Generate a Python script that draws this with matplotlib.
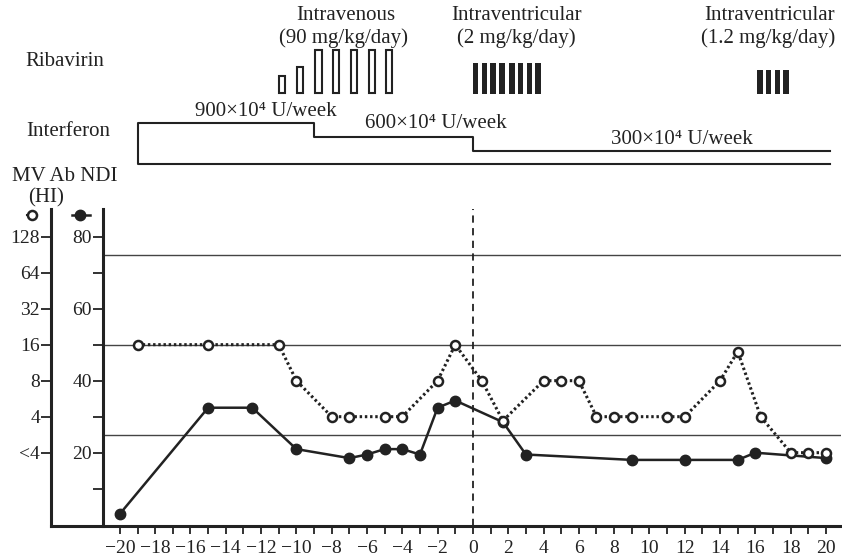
import matplotlib
matplotlib.use("Agg")
import matplotlib.pyplot as plt
from matplotlib.lines import Line2D

plt.rcParams['font.family'] = ['Liberation Serif', 'DejaVu Serif']
plt.rcParams['font.size'] = 15

# NDI (filled circles)
ndi_day = [-20, -15, -12.5, -10, -7, -6, -5, -4, -3, -2, -1, 1.7, 3, 9, 12, 15, 16, 20]
ndi_val = [3, 32.5, 32.5, 21, 18.5, 19.5, 21, 21, 19.5, 32.5, 34.5, 28.5, 19.5, 18, 18, 18, 20, 18.5]

# MV antibody titre, HI (open circles); 2 is plotted as "<4"
mv_day = [-19, -15, -11, -10, -8, -7, -5, -4, -2, -1, 0.5, 1.7, 4, 5, 6, 7, 8, 9,
          11, 12, 14, 15, 16.3, 18, 19, 20]
mv_val = [16, 16, 16, 8, 4, 4, 4, 4, 8, 16, 8, 3.7, 8, 8, 8, 4, 4, 4,
          4, 4, 8, 14, 4, 2, 2, 2]
mv_ticks = [2, 4, 8, 16, 32, 64, 128]
mv_labels = ['<4', '4', '8', '16', '32', '64', '128']
ndi_ticks = [20, 40, 60, 80]
ref_lines = [25, 50, 75]

# ribavirin (relative bar heights)
iv_day = [-10.8, -9.8, -8.75, -7.75, -6.75, -5.7, -4.75]
iv_h = [17, 26, 43, 43, 43, 43, 43]
ivt2_day = [0.15, 0.65, 1.15, 1.65, 2.2, 2.7, 3.2, 3.7]
ivt2_h = [31, 31, 31, 31, 31, 31, 31, 31]
ivt12_day = [16.25, 16.75, 17.25, 17.75]
ivt12_h = [24, 24, 24, 24]

# interferon
ifn_start = [-19, -9, 0]
ifn_end = [-9, 0, 20.2]
ifn_dose = [900, 600, 300]

W, H = 842, 558
fig = plt.figure(figsize=(W / 100, H / 100), dpi=100)
ink = '#222222'
tick_fs = 14

# main axes: spans from the MV Ab spine to the right edge
ax = fig.add_axes([51 / W, (H - 526) / H, 790 / W, 317 / H])
x0, x1 = -23.9, 20.85
ndi_spine = -20.96
ax.set_xlim(x0, x1)
ax.set_ylim(-0.36, 87.7)

ax.hlines(ref_lines, ndi_spine, x1, color='#444444', lw=1)
ax.axvline(0, color=ink, lw=1.3, ls=(0, (4, 3)))
ax.plot(ndi_day, ndi_val, color=ink, lw=1.8, marker='o', ms=7.5, zorder=3)

ax.spines['top'].set_visible(False)
ax.spines['right'].set_visible(False)
ax.spines['left'].set_position(('data', ndi_spine))
for s in ['left', 'bottom']:
    ax.spines[s].set_linewidth(2.2)
    ax.spines[s].set_color(ink)

ax.set_xticks(range(-20, 21, 2))
ax.set_xticks(range(-19, 21, 2), minor=True)
ax.set_yticks(ndi_ticks)
ax.set_yticks([10, 30, 50, 70], minor=True)
ax.tick_params(axis='both', which='both', direction='out', length=6, width=1.3,
               color=ink, labelcolor=ink, labelsize=tick_fs)
ax.tick_params(axis='y', which='both', length=7, pad=1)
ax.tick_params(axis='x', pad=4)

# MV Ab axis, log2 scale, spine at the left edge
ax2 = ax.twinx()
ax2.set_yscale('log', base=2)
ax2.set_ylim(0.4875, 218)
ax2.plot(mv_day, mv_val, color=ink, lw=2.2, ls=(0, (0.8, 0.9)),
         marker='o', ms=6.5, mfc='white', mec=ink, mew=1.8, zorder=4)
for s in ['top', 'right', 'bottom']:
    ax2.spines[s].set_visible(False)
ax2.spines['left'].set_visible(True)
ax2.spines['left'].set_position(('axes', 0))
ax2.spines['left'].set_linewidth(2.2)
ax2.spines['left'].set_color(ink)
ax2.yaxis.tick_left()
ax2.set_yticks(mv_ticks)
ax2.set_yticklabels(mv_labels)
ax2.yaxis.set_minor_locator(matplotlib.ticker.NullLocator())
ax2.tick_params(axis='y', direction='out', length=7, width=1.3, pad=1,
                color=ink, labelcolor=ink, labelsize=tick_fs)

# axis headers and legend symbols
fig.text(12 / W, 1 - 177 / H, 'MV Ab NDI', ha='left', va='center', color=ink)
fig.text(46 / W, 1 - 198 / H, '(HI)', ha='center', va='center', color=ink)
fig.add_artist(Line2D([27 / W, 37 / W], [1 - 215 / H] * 2, color=ink, lw=1.5))
fig.add_artist(Line2D([31.7 / W], [1 - 215 / H], color=ink, marker='o', ms=6.5,
                      mfc='white', mew=1.8, ls='none'))
fig.add_artist(Line2D([72 / W, 90 / W], [1 - 215 / H] * 2, color=ink, lw=1.8))
fig.add_artist(Line2D([80 / W], [1 - 215 / H], color=ink, marker='o', ms=7.5, ls='none'))

# treatment panel on top
top = fig.add_axes([51 / W, (H - 170) / H, 790 / W, 170 / H])
top.set_xlim(x0, x1)
top.set_ylim(0, 170)
top.axis('off')

bar_base = 76.7
top.bar(iv_day, iv_h, width=0.35, bottom=bar_base, facecolor='white',
        edgecolor=ink, linewidth=1.5)
top.bar(ivt2_day, ivt2_h, width=0.32, bottom=bar_base - 1, color=ink)
top.bar(ivt12_day, ivt12_h, width=0.32, bottom=bar_base - 1, color=ink)

ifn_base = 5.7
ifn_scale = 41 / 900
xs = [ifn_end[-1], ifn_start[0]]
ys = [ifn_base, ifn_base]
for a, b, d in zip(ifn_start, ifn_end, ifn_dose):
    xs += [a, b]
    ys += [ifn_base + d * ifn_scale] * 2
top.plot(xs, ys, color=ink, lw=1.5)

top.text(-7.2, 154, 'Intravenous', ha='center', va='center', color=ink)
top.text(-7.35, 132, '(90 mg/kg/day)', ha='center', va='center', color=ink)
top.text(2.45, 154, 'Intraventricular', ha='center', va='center', color=ink)
top.text(2.45, 132, '(2 mg/kg/day)', ha='center', va='center', color=ink)
top.text(16.8, 154, 'Intraventricular', ha='center', va='center', color=ink)
top.text(16.75, 132, '(1.2 mg/kg/day)', ha='center', va='center', color=ink)
top.text(-11.73, 58.3, '900×10⁴ U/week', ha='center', va='center', color=ink)
top.text(-2.12, 46, '600×10⁴ U/week', ha='center', va='center', color=ink)
top.text(11.82, 30, '300×10⁴ U/week', ha='center', va='center', color=ink)

fig.text(25 / W, 1 - 62 / H, 'Ribavirin', ha='left', va='center', color=ink)
fig.text(26 / W, 1 - 132 / H, 'Interferon', ha='left', va='center', color=ink)

fig.savefig('out.png', dpi=100)
